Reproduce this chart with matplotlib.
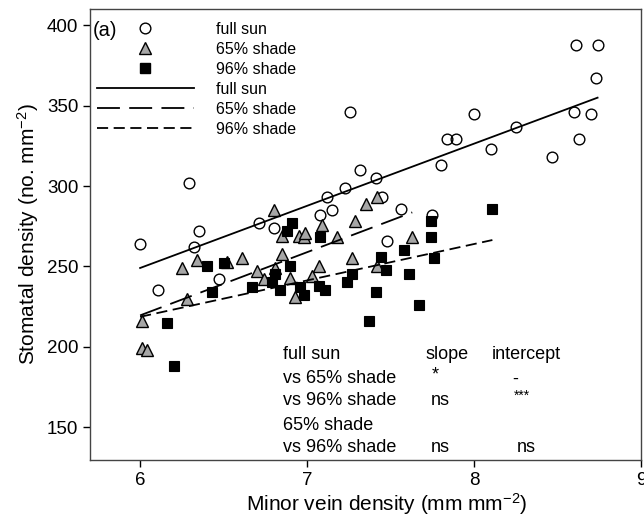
import matplotlib
matplotlib.use("Agg")
import matplotlib.pyplot as plt
from matplotlib.lines import Line2D

plt.rcParams['font.family'] = ['Liberation Sans', 'DejaVu Sans']
plt.rcParams['mathtext.fontset'] = 'custom'
plt.rcParams['mathtext.rm'] = 'Liberation Sans'
plt.rcParams['mathtext.default'] = 'regular'
plt.rcParams['lines.scale_dashes'] = False

# vein density (mm mm-2) vs stomatal density (no. mm-2)
sun_x = [6.00, 6.11, 6.29, 6.32, 6.35, 6.47, 6.71, 6.80, 7.08, 7.12, 7.15, 7.23,
         7.26, 7.32, 7.41, 7.45, 7.48, 7.56, 7.75, 7.80, 7.84, 7.89, 8.00, 8.10,
         8.25, 8.47, 8.60, 8.61, 8.63, 8.70, 8.73, 8.74]
sun_y = [264, 235, 302, 262, 272, 242, 277, 274, 282, 293, 285, 299,
         346, 310, 305, 293, 266, 286, 282, 313, 329, 329, 345, 323,
         337, 318, 346, 388, 329, 345, 367, 388]

shade65_x = [6.01, 6.01, 6.04, 6.25, 6.28, 6.34, 6.52, 6.61, 6.70, 6.74, 6.80, 6.81,
             6.85, 6.85, 6.90, 6.93, 6.95, 6.98, 6.99, 7.03, 7.07, 7.09, 7.18, 7.27,
             7.29, 7.35, 7.42, 7.42, 7.63]
shade65_y = [216, 199, 198, 249, 230, 254, 253, 255, 247, 242, 285, 249,
             258, 269, 243, 231, 269, 268, 271, 244, 250, 276, 268, 255,
             278, 289, 250, 293, 268]

shade96_x = [6.16, 6.20, 6.40, 6.43, 6.50, 6.67, 6.79, 6.81, 6.84, 6.88, 6.90, 6.91,
             6.96, 6.98, 7.07, 7.08, 7.11, 7.24, 7.27, 7.37, 7.41, 7.44, 7.47, 7.58,
             7.61, 7.67, 7.74, 7.74, 7.76, 8.11]
shade96_y = [215, 188, 250, 234, 252, 237, 240, 245, 235, 272, 250, 277,
             237, 232, 238, 268, 235, 240, 245, 216, 234, 256, 248, 260,
             245, 226, 278, 268, 255, 286]

# fitted regression lines (end points)
fit_sun_x, fit_sun_y = [6.00, 8.74], [249, 355]
fit_65_x, fit_65_y = [6.00, 7.63], [219.5, 283.6]
fit_96_x, fit_96_y = [6.00, 8.11], [218.6, 266.4]

dash65 = (0, (16.5, 6.7))
dash96 = (0, (8, 4))

fig = plt.figure(figsize=(6.44, 5.23), dpi=100)
ax = fig.add_axes([0.1398, 0.1205, 0.8555, 0.8617])

ms = 7.7
ax.plot(sun_x, sun_y, 'o', ms=ms, mfc='none', mec='black', mew=1.0, zorder=3)
ax.plot(shade65_x, shade65_y, '^', ms=ms + 0.7, mfc='#a6a6a6', mec='black', mew=1.0, zorder=3)
ax.plot(shade96_x, shade96_y, 's', ms=7.0, mfc='black', mec='black', mew=0.8, zorder=3)

lw = 1.3
ax.plot(fit_sun_x, fit_sun_y, color='black', lw=lw, zorder=4)
ax.plot(fit_65_x, fit_65_y, color='black', lw=lw, linestyle=dash65, zorder=4)
ax.plot(fit_96_x, fit_96_y, color='black', lw=lw, linestyle=dash96, zorder=4)

ax.set_xlim(5.70, 9.0)
ax.set_ylim(129.5, 410)
ax.set_xticks([6, 7, 8, 9])
ax.set_yticks([150, 200, 250, 300, 350, 400])
ax.tick_params(direction='out', length=5, width=1, labelsize=13.5, colors='black')
for s in ax.spines.values():
    s.set_color('#444444')
    s.set_linewidth(1.0)

ax.set_xlabel(r'Minor vein density (mm mm$^{-2}$)', fontsize=15)
ax.xaxis.set_label_coords(0.538, -0.068)
ax.set_ylabel(r'Stomatal density (no. mm$^{-2}$)', fontsize=15, labelpad=4)

handles = [
    Line2D([], [], ls='none', marker='o', ms=ms, mfc='none', mec='black'),
    Line2D([], [], ls='none', marker='^', ms=ms + 0.7, mfc='#a6a6a6', mec='black'),
    Line2D([], [], ls='none', marker='s', ms=7.0, mfc='black', mec='black'),
    Line2D([], [], color='black', lw=lw),
    Line2D([], [], color='black', lw=lw, linestyle=dash65),
    Line2D([], [], color='black', lw=lw, linestyle=dash96),
]
labels = ['full sun', '65% shade', '96% shade', 'full sun', '65% shade', '96% shade']
ax.legend(handles, labels, loc='upper left', bbox_to_anchor=(0.012, 0.972),
          frameon=False, fontsize=11.5, handlelength=6.1, handletextpad=1.4,
          labelspacing=0.31, borderpad=0, borderaxespad=0)

ax.text(0.005, 0.952, '(a)', transform=ax.transAxes, fontsize=14.5, va='center', ha='left')

# significance table
tbl_fs = 13
dy = -0.007
x0 = 0.350
ax.text(x0, 0.240 + dy, 'full sun', transform=ax.transAxes, fontsize=tbl_fs, va='center')
ax.text(0.648, 0.240 + dy, 'slope', transform=ax.transAxes, fontsize=tbl_fs, va='center', ha='center')
ax.text(0.792, 0.240 + dy, 'intercept', transform=ax.transAxes, fontsize=tbl_fs, va='center', ha='center')
ax.text(x0, 0.187 + dy, 'vs 65% shade', transform=ax.transAxes, fontsize=tbl_fs, va='center')
ax.text(0.627, 0.195 + dy, '*', transform=ax.transAxes, fontsize=tbl_fs, va='center', ha='center')
ax.text(0.772, 0.187 + dy, '-', transform=ax.transAxes, fontsize=tbl_fs, va='center', ha='center')
ax.text(x0, 0.138 + dy, 'vs 96% shade', transform=ax.transAxes, fontsize=tbl_fs, va='center')
ax.text(0.636, 0.138 + dy, 'ns', transform=ax.transAxes, fontsize=tbl_fs, va='center', ha='center')
ax.text(0.784, 0.150 + dy, '***', transform=ax.transAxes, fontsize=tbl_fs - 3, va='center', ha='center')
ax.text(x0, 0.083 + dy, '65% shade', transform=ax.transAxes, fontsize=tbl_fs, va='center')
ax.text(x0, 0.034 + dy, 'vs 96% shade', transform=ax.transAxes, fontsize=tbl_fs, va='center')
ax.text(0.636, 0.034 + dy, 'ns', transform=ax.transAxes, fontsize=tbl_fs, va='center', ha='center')
ax.text(0.792, 0.034 + dy, 'ns', transform=ax.transAxes, fontsize=tbl_fs, va='center', ha='center')

fig.savefig('out.png', dpi=100)
